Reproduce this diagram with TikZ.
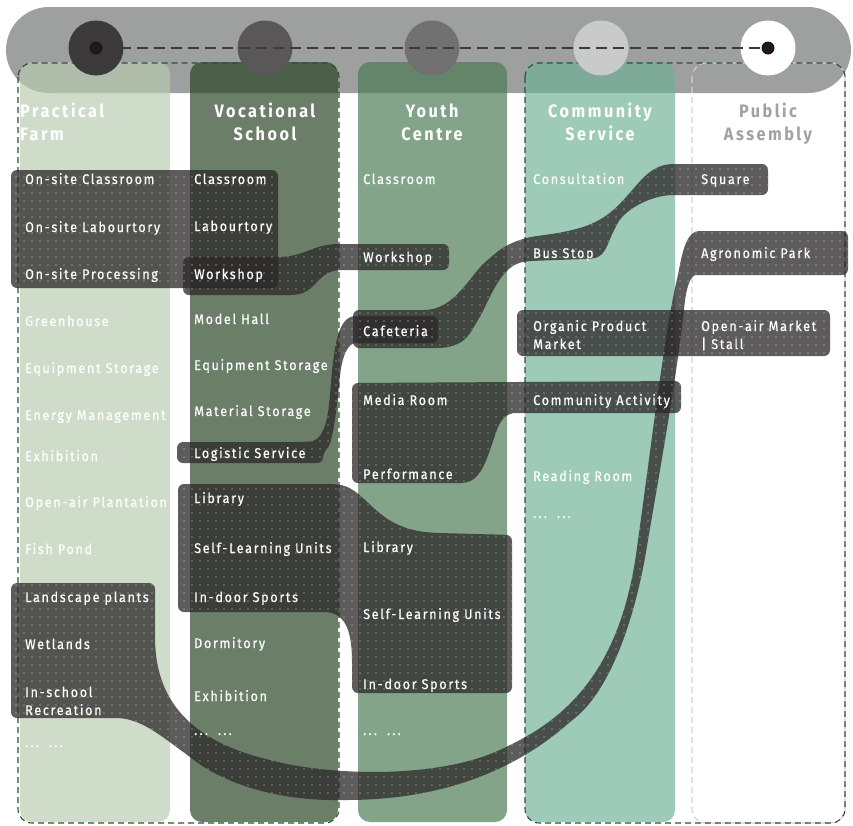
\documentclass[tikz,border=0pt]{standalone}
\usepackage{fontspec}
\setmainfont{Fira Sans}[FakeStretch=0.9, LetterSpace=12]
\newfontfamily\labelfont{Fira Sans}[FakeStretch=0.9, LetterSpace=12, FakeBold=0.4]
\newfontfamily\titlefont{Fira Sans}[FakeStretch=0.9, LetterSpace=14]
\usetikzlibrary{patterns.meta}

\definecolor{barGray}{RGB}{158,160,159}
\definecolor{farmGreen}{RGB}{186,204,177}
\definecolor{schoolGreen}{RGB}{36,65,33}
\definecolor{youthGreen}{RGB}{74,121,83}
\definecolor{serviceGreen}{RGB}{112,177,151}
\definecolor{frameGreen}{RGB}{46,78,50}
\definecolor{frameLight}{RGB}{200,216,200}
\definecolor{flowGray}{RGB}{44,40,41}
\definecolor{pinBlack}{RGB}{35,24,21}
\definecolor{linkGray}{RGB}{62,58,57}
\definecolor{stopA}{RGB}{60,58,58}
\definecolor{stopB}{RGB}{89,87,87}
\definecolor{stopC}{RGB}{114,113,113}
\definecolor{stopD}{RGB}{201,202,202}
\definecolor{assemblyGray}{RGB}{160,161,161}

\newcommand{\itemsize}{\fontsize{14}{18}\selectfont}
\newcommand{\titlesize}{\fontsize{18}{22.5}\selectfont\bfseries}
\newcommand{\moreitems}{.\,.\,.\ \ .\,.\,.}

\begin{document}
\begin{tikzpicture}[x=1pt, y=-1pt,
    column/.style={fill opacity=0.68, rounded corners=12pt},
    frame/.style={draw=frameGreen, line width=1.1pt, dash pattern=on 6pt off 4pt, rounded corners=14pt},
    flow/.style={fill=flowGray, fill opacity=0.76, rounded corners=6pt,
        postaction={pattern={Dots[distance=8pt, radius=0.65pt]}, pattern color=white, fill opacity=0.75}},
    stop/.style={circle, minimum size=55pt, inner sep=0pt},
    pin/.style={circle, fill=pinBlack, minimum size=13pt, inner sep=0pt},
    item/.style={anchor=base west, inner sep=0pt, text=white, font=\labelfont\itemsize, align=left},
    head/.style={anchor=base, inner sep=0pt, text=white, font=\titlefont\titlesize, align=center}]

    \useasboundingbox (0,0) rectangle (853,825);

    % Grey bar behind the stops
    \fill[barGray, rounded corners=43pt] (6,7) rectangle (851,93);

    % The four coloured columns
    \fill[farmGreen, column] (20,62) rectangle (170,822);
    \fill[schoolGreen, column] (190,62) rectangle (338,822);
    \fill[youthGreen, column] (358,62) rectangle (507,822);
    \fill[serviceGreen, column] (525,62) rectangle (675,822);

    % Dashed frames
    \draw[frame, draw=frameLight] (692,63) rectangle (845,823);
    \draw[frame] (18,63) rectangle (339,823);
    \draw[frame] (525,63) rectangle (845,823);

    % Stops on the bar
    \node[stop, fill=stopA] (farmStop) at (96,48) {};
    \node[stop, fill=stopB] (schoolStop) at (265,48) {};
    \node[stop, fill=stopC] (youthStop) at (432,48) {};
    \node[stop, fill=stopD] (serviceStop) at (601,48) {};
    \node[stop, fill=white] (assemblyStop) at (768,48) {};
    \node[pin] (farmPin) at (farmStop) {};
    \node[pin] (assemblyPin) at (assemblyStop) {};
    \draw[linkGray, line width=2.2pt, dash pattern=on 11pt off 6pt] (farmPin) -- (assemblyPin);

    % On-site block
    \path[flow] (11,170) rectangle (278,288);
    % Workshop to workshop
    \path[flow] (183,257) -- (272,257) .. controls (305,257) and (312,244) .. (345,244) -- (449,244)
        -- (449,270) -- (348,270) .. controls (315,270) and (318,295) .. (285,295) -- (183,295) -- cycle;
    % Logistic service to cafeteria
    \path[flow] (177,442) -- (305,442) .. controls (322,440) and (327,425) .. (330,395)
        .. controls (334,345) and (338,316) .. (362,316) -- (438,316) -- (438,343) -- (362,343)
        .. controls (348,343) and (342,355) .. (339,385) .. controls (335,425) and (331,445) .. (323,452)
        -- (323,463) -- (177,463) -- cycle;
    % Cafeteria to bus stop and square
    \path[flow] (353,310) -- (418,310) .. controls (455,310) and (470,275) .. (490,258)
        .. controls (505,245) and (520,238) .. (545,235) .. controls (590,228) and (605,220) .. (628,195)
        .. controls (645,175) and (655,164) .. (680,164) -- (768,164) -- (768,195) -- (680,195)
        .. controls (650,195) and (625,210) .. (615,228) .. controls (607,245) and (605,258) .. (585,259)
        -- (530,261) .. controls (500,265) and (490,300) .. (475,325)
        .. controls (465,342) and (455,348) .. (430,348) -- (353,348) -- cycle;
    % Organic product market
    \path[flow] (517,310) rectangle (830,356);
    % Media room and performance to community activity
    \path[flow] (352,383) -- (681,381) -- (681,413) -- (522,413) .. controls (500,413) and (497,430) .. (490,450)
        .. controls (482,472) and (475,483) .. (455,483) -- (352,483) -- cycle;
    % Library block
    \path[flow] (178,484) -- (330,484) .. controls (368,486) and (372,530) .. (440,533) -- (512,535)
        -- (512,693) -- (352,693) -- (352,668) .. controls (352,630) and (345,612) .. (318,612) -- (178,612) -- cycle;
    % Landscape to agronomic park
    \path[flow] (11,583) -- (155,583) -- (155,640) .. controls (158,700) and (190,740) .. (270,760)
        .. controls (330,775) and (440,780) .. (510,745) .. controls (590,705) and (625,640) .. (638,540)
        .. controls (652,440) and (665,330) .. (678,275) .. controls (683,248) and (688,231) .. (705,231)
        -- (848,231) -- (848,275) -- (702,275) .. controls (690,275) and (686,290) .. (684,310)
        .. controls (676,380) and (660,470) .. (648,540) .. controls (635,620) and (610,690) .. (570,722)
        .. controls (520,765) and (450,800) .. (340,800) .. controls (270,800) and (220,780) .. (190,757)
        .. controls (160,735) and (140,718) .. (110,718) -- (11,718) -- cycle;

    % Column titles (placed at the baseline of their second line)
    \node[head, anchor=base west, align=left] (farmHead) at (20,140) {Practical\\Farm};
    \node[head] (schoolHead) at (265,140) {Vocational\\School};
    \node[head] (youthHead) at (432,140) {Youth\\Centre};
    \node[head] (serviceHead) at (600,140) {Community\\Service};
    \node[head, text=assemblyGray] (assemblyHead) at (768,140) {Public\\Assembly};

    % Practical farm
    \foreach \y/\t [count=\i] in {184/On-site Classroom, 232/On-site Labourtory, 279/On-site Processing,
        326/Greenhouse, 373/Equipment Storage, 420/Energy Management, 461/Exhibition,
        507/Open-air Plantation, 554/Fish Pond, 602/Landscape plants, 649/Wetlands}
        \node[item] (farm\i) at (25,\y) {\t};
    \node[item] (farmRecreation) at (25,715) {In-school\\Recreation};
    \node[item] (farmMore) at (25,747) {\moreitems};

    % Vocational school
    \foreach \y/\t [count=\i] in {184/Classroom, 231/Labourtory, 279/Workshop, 324/Model Hall,
        370/Equipment Storage, 416/Material Storage, 458/Logistic Service, 503/Library,
        553/Self-Learning Units, 602/In-door Sports, 648/Dormitory, 701/Exhibition}
        \node[item] (school\i) at (194,\y) {\t};
    \node[item] (schoolMore) at (194,735) {\moreitems};

    % Youth centre
    \foreach \y/\t [count=\i] in {184/Classroom, 262/Workshop, 336/Cafeteria, 405/Media Room,
        479/Performance, 552/Library, 619/Self-Learning Units, 689/In-door Sports}
        \node[item] (youth\i) at (363,\y) {\t};
    \node[item] (youthMore) at (363,735) {\moreitems};

    % Community service
    \foreach \y/\t [count=\i] in {184/Consultation, 258/Bus Stop, 405/Community Activity, 481/Reading Room}
        \node[item] (service\i) at (533,\y) {\t};
    \node[item] (serviceMarket) at (533,349) {Organic Product\\Market};
    \node[item] (serviceMore) at (533,518) {\moreitems};

    % Public assembly
    \node[item] (assemblySquare) at (701,184) {Square};
    \node[item] (assemblyPark) at (701,258) {Agronomic Park};
    \node[item] (assemblyMarket) at (701,349) {Open-air Market\\| Stall};

\end{tikzpicture}
\end{document}
